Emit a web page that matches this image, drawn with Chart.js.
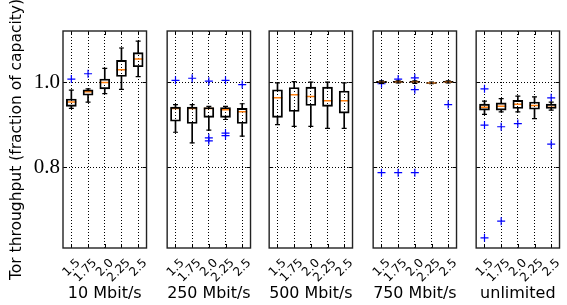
<!DOCTYPE html>
<html>
<head>
<meta charset="utf-8">
<script src="https://cdn.jsdelivr.net/npm/chart.js@4"></script>
<style>
  html, body { margin: 0; padding: 0; background: #fff; overflow: hidden; }
  #wrap { position: relative; width: 567px; height: 305px; }
  .panel { position: absolute; top: 0; }
</style>
</head>
<body>
<div id="wrap"></div>
<script>
'use strict'

const rates = ['1.5', '1.75', '2.0', '2.25', '2.5']
const panelTitles = ['10 Mbit/s', '250 Mbit/s', '500 Mbit/s', '750 Mbit/s', 'unlimited']
const yTicks = [0.8, 1.0]

// one row per panel, one value per rate
const whiskerLow = [
  [0.938, 0.953, 0.973, 0.983, 1.013],
  [0.882, 0.857, 0.887, 0.912, 0.873],
  [0.900, 0.896, 0.896, 0.891, 0.891],
  [0.997, 0.998, 0.997, 0.996, 0.998],
  [0.924, 0.930, 0.930, 0.914, 0.934]
]
const q1 = [
  [0.943, 0.969, 0.984, 1.013, 1.036],
  [0.908, 0.9025, 0.917, 0.917, 0.9025],
  [0.917, 0.931, 0.945, 0.943, 0.927],
  [0.9985, 0.999, 0.999, 0.997, 0.9995],
  [0.934, 0.934, 0.938, 0.936, 0.938]
]
const medians = [
  [0.953, 0.977, 0.999, 1.029, 1.054],
  [0.938, 0.938, 0.938, 0.935, 0.930],
  [0.963, 0.970, 0.966, 0.956, 0.956],
  [1.000, 1.001, 1.001, 0.998, 1.001],
  [0.941, 0.943, 0.948, 0.945, 0.941]
]
const q3 = [
  [0.960, 0.982, 1.007, 1.051, 1.069],
  [0.941, 0.941, 0.940, 0.940, 0.938],
  [0.982, 0.987, 0.988, 0.988, 0.979],
  [1.002, 1.002, 1.002, 0.999, 1.002],
  [0.948, 0.951, 0.957, 0.953, 0.948]
]
const whiskerHigh = [
  [0.981, 0.984, 1.032, 1.080, 1.096],
  [0.947, 0.947, 0.943, 0.943, 0.949],
  [0.998, 1.001, 1.000, 1.000, 0.998],
  [1.003, 1.003, 1.003, 1.000, 1.003],
  [0.955, 0.961, 0.967, 0.965, 0.953]
]
const outliers = [
  [[1.007], [1.0195], [], [], []],
  [[1.004], [1.009], [1.002, 0.869, 0.862], [1.004, 0.880, 0.874], [0.994]],
  [[], [], [], [], []],
  [[0.996, 0.787], [1.007, 0.787], [1.010, 0.982, 0.787], [], [0.947]],
  [[0.984, 0.899, 0.634], [0.895, 0.673], [0.9025], [], [0.963, 0.854]]
]

const panelLefts = [63, 167, 269, 373, 476]
const plotWidth = 90
const plotTop = 31
const xAxisHeight = 57
const height = 305

const frame = {
  id: 'frame',
  afterDraw(chart) {
    const { ctx, chartArea: a, scales } = chart
    ctx.save()
    ctx.strokeStyle = '#000'
    ctx.lineWidth = 1
    ctx.beginPath()
    scales.y.ticks.forEach(t => {
      const y = Math.round(scales.y.getPixelForValue(t.value)) + 0.5
      ctx.moveTo(a.left, y); ctx.lineTo(a.left + 4, y)
      ctx.moveTo(a.right, y); ctx.lineTo(a.right - 4, y)
    })
    rates.forEach(r => {
      const x = Math.round(scales.x.getPixelForValue(r)) + 0.5
      ctx.moveTo(x, a.bottom); ctx.lineTo(x, a.bottom - 4)
      ctx.moveTo(x, a.top); ctx.lineTo(x, a.top + 4)
    })
    ctx.stroke()
    ctx.strokeStyle = '#222'
    ctx.lineWidth = 1.4
    ctx.strokeRect(a.left, a.top, a.right - a.left, a.bottom - a.top)
    ctx.restore()
  }
}

const points = (values, i) => rates.map((r, j) => ({ x: r, y: values[i][j] }))

function makePanel(i) {
  const first = i === 0
  const leftW = first ? 63 : 14
  const width = leftW + plotWidth + 4

  const div = document.createElement('div')
  div.className = 'panel'
  div.style.left = (panelLefts[i] - leftW) + 'px'
  const canvas = document.createElement('canvas')
  canvas.width = width
  canvas.height = height
  div.append(canvas)
  document.getElementById('wrap').append(div)

  const outlierPoints = []
  rates.forEach((r, j) => outliers[i][j].forEach(y => outlierPoints.push({ x: r, y })))

  const whisker = {
    type: 'bar',
    backgroundColor: '#000',
    borderWidth: 0,
    barThickness: 1,
    grouped: false
  }

  new Chart(canvas, {
    type: 'bar',
    data: {
      labels: rates,
      datasets: [
        { ...whisker, data: rates.map((r, j) => [whiskerLow[i][j], q1[i][j]]) },
        { ...whisker, data: rates.map((r, j) => [q3[i][j], whiskerHigh[i][j]]) },
        {
          type: 'bar',
          data: rates.map((r, j) => [q1[i][j], q3[i][j]]),
          backgroundColor: 'rgba(0,0,0,0)',
          borderColor: '#000',
          borderWidth: 1.2,
          borderSkipped: false,
          barThickness: 10,
          grouped: false
        },
        {
          type: 'line',
          data: points(medians, i),
          showLine: false,
          pointStyle: 'line',
          pointRadius: 5,
          borderColor: '#ff7f0e',
          pointBorderWidth: 1.5
        },
        {
          type: 'line',
          data: points(whiskerLow, i).concat(points(whiskerHigh, i)),
          showLine: false,
          pointStyle: 'line',
          pointRadius: 2.5,
          borderColor: '#000',
          pointBorderWidth: 1.2
        },
        {
          type: 'line',
          data: outlierPoints,
          showLine: false,
          pointStyle: 'cross',
          pointRadius: 4,
          borderColor: '#0000ff',
          pointBorderWidth: 1.2
        }
      ]
    },
    options: {
      responsive: false,
      animation: false,
      events: [],
      layout: { padding: { top: plotTop, right: 4, left: 0, bottom: 0 } },
      plugins: {
        legend: { display: false },
        tooltip: { enabled: false }
      },
      scales: {
        x: {
          type: 'category',
          offset: true,
          grid: { color: '#000', lineWidth: 1, drawTicks: false, offset: false },
          border: { display: false, dash: [1, 2] },
          ticks: {
            color: '#000',
            font: { family: 'DejaVu Sans', size: 12 },
            minRotation: 45,
            maxRotation: 45,
            autoSkip: false,
            padding: 8,
            labelOffset: 7
          },
          title: {
            display: true,
            text: panelTitles[i],
            color: '#000',
            font: { family: 'DejaVu Sans', size: 16 },
            padding: { top: 0, bottom: 2 }
          },
          afterFit: s => { s.height = xAxisHeight }
        },
        y: {
          min: 0.61,
          max: 1.12,
          afterBuildTicks: s => { s.ticks = yTicks.map(value => ({ value })) },
          grid: { color: '#000', lineWidth: 1, drawTicks: false },
          border: { display: false, dash: [1, 2] },
          ticks: {
            display: first,
            color: '#000',
            padding: 3,
            font: { family: 'Liberation Serif', size: 21 },
            callback: v => v.toFixed(1)
          },
          title: {
            display: first,
            text: 'Tor throughput (fraction of capacity)',
            color: '#000',
            font: { family: 'DejaVu Sans', size: 15.5 },
            padding: { top: 8, bottom: 0 }
          },
          afterFit: s => { s.width = leftW }
        }
      }
    },
    plugins: [frame]
  })
}

panelTitles.forEach((t, i) => makePanel(i))
</script>
</body>
</html>
